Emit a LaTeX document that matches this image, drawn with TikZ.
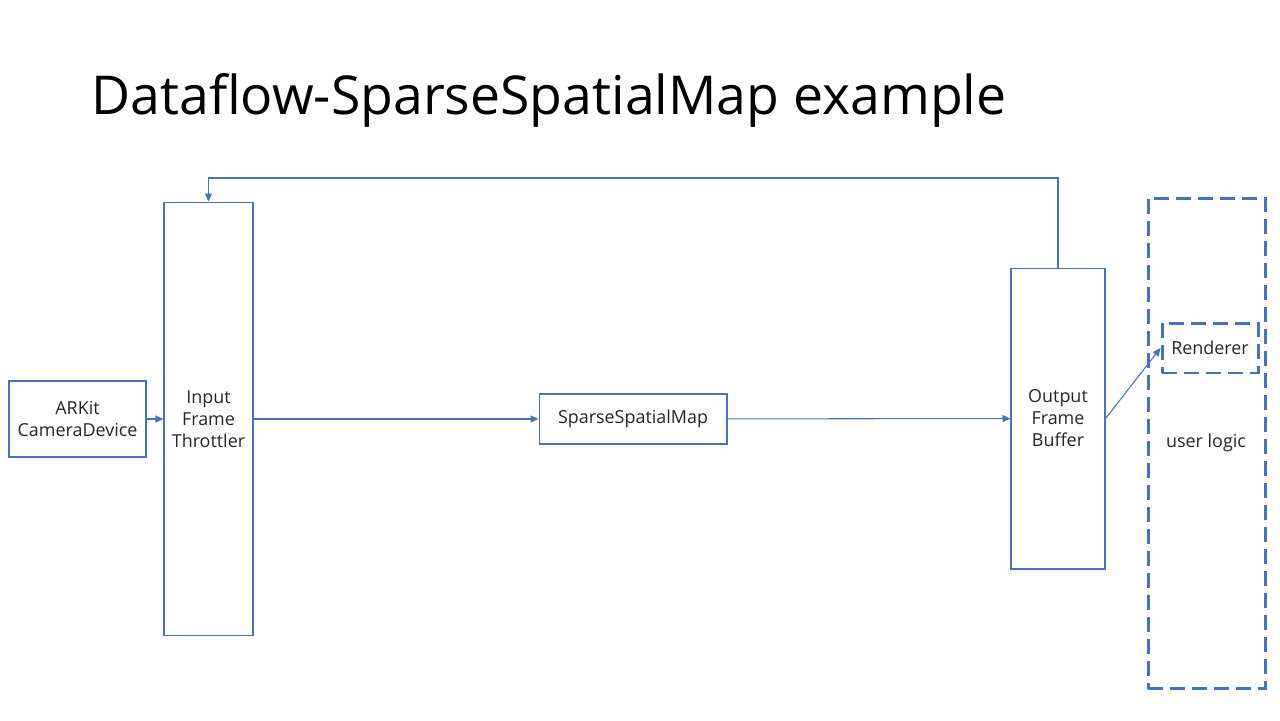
\documentclass[tikz,border=0pt]{standalone}
\usepackage{fontspec}
\setmainfont{Open Sans}
\usetikzlibrary{arrows.meta}
\definecolor{boxblue}{HTML}{4472C4}
\definecolor{ink}{HTML}{262626}
\tikzset{
    label text/.style = {align=center, text=ink, font=\fontsize{10.2}{12.5}\selectfont, inner sep=0pt},
    block/.style = {label text, draw=boxblue, line width=0.6pt},
    flow/.style  = {draw=boxblue, line width=0.6pt, -{Triangle[length=1.6mm,width=1.4mm]}},
    zone/.style  = {draw=boxblue, line width=1.7pt, dash pattern=on 0.3cm off 0.14cm}
}
\begin{document}
\begin{tikzpicture}[x=0.02cm, y=-0.02cm]
    \useasboundingbox (0,0) rectangle (1280,720);
    % title
    \node[text=black, font=\fontsize{30.5}{36}\selectfont] (title) at (549,100) {Dataflow-SparseSpatialMap example};
    % pipeline
    \node[block, minimum width=2.74cm, minimum height=1.52cm] (cam) at (77.5,419) {ARKit\\CameraDevice};
    \node[block, minimum width=1.78cm, minimum height=8.68cm] (thr) at (208.5,419) {Input\\Frame\\Throttler};
    \node[block, minimum width=3.76cm, minimum height=1.0cm] (ssm) at (633,419) {SparseSpatialMap};
    \node[block, minimum width=1.88cm, minimum height=6.02cm] (buf) at (1058,418.5) {Output\\Frame\\Buffer};
    % user side
    \node[zone, minimum width=2.34cm, minimum height=9.82cm] (user) at (1206.5,443.5) {};
    \node[label text] (logic) at (1206,443) {user logic};
    \node[block, zone, minimum width=1.92cm, minimum height=1.0cm] (rend) at (1210,348) {Renderer};
    % connectors
    \draw[flow] (cam) -- (thr);
    \draw[flow] (thr) -- (ssm);
    \draw[flow] (ssm) -- (buf);
    \coordinate (fb) at (1058,178);
    \draw[flow] (buf.north) -- (fb) -| (thr.north);
    \draw[flow] (buf.east) -- (rend.west);
\end{tikzpicture}
\end{document}
